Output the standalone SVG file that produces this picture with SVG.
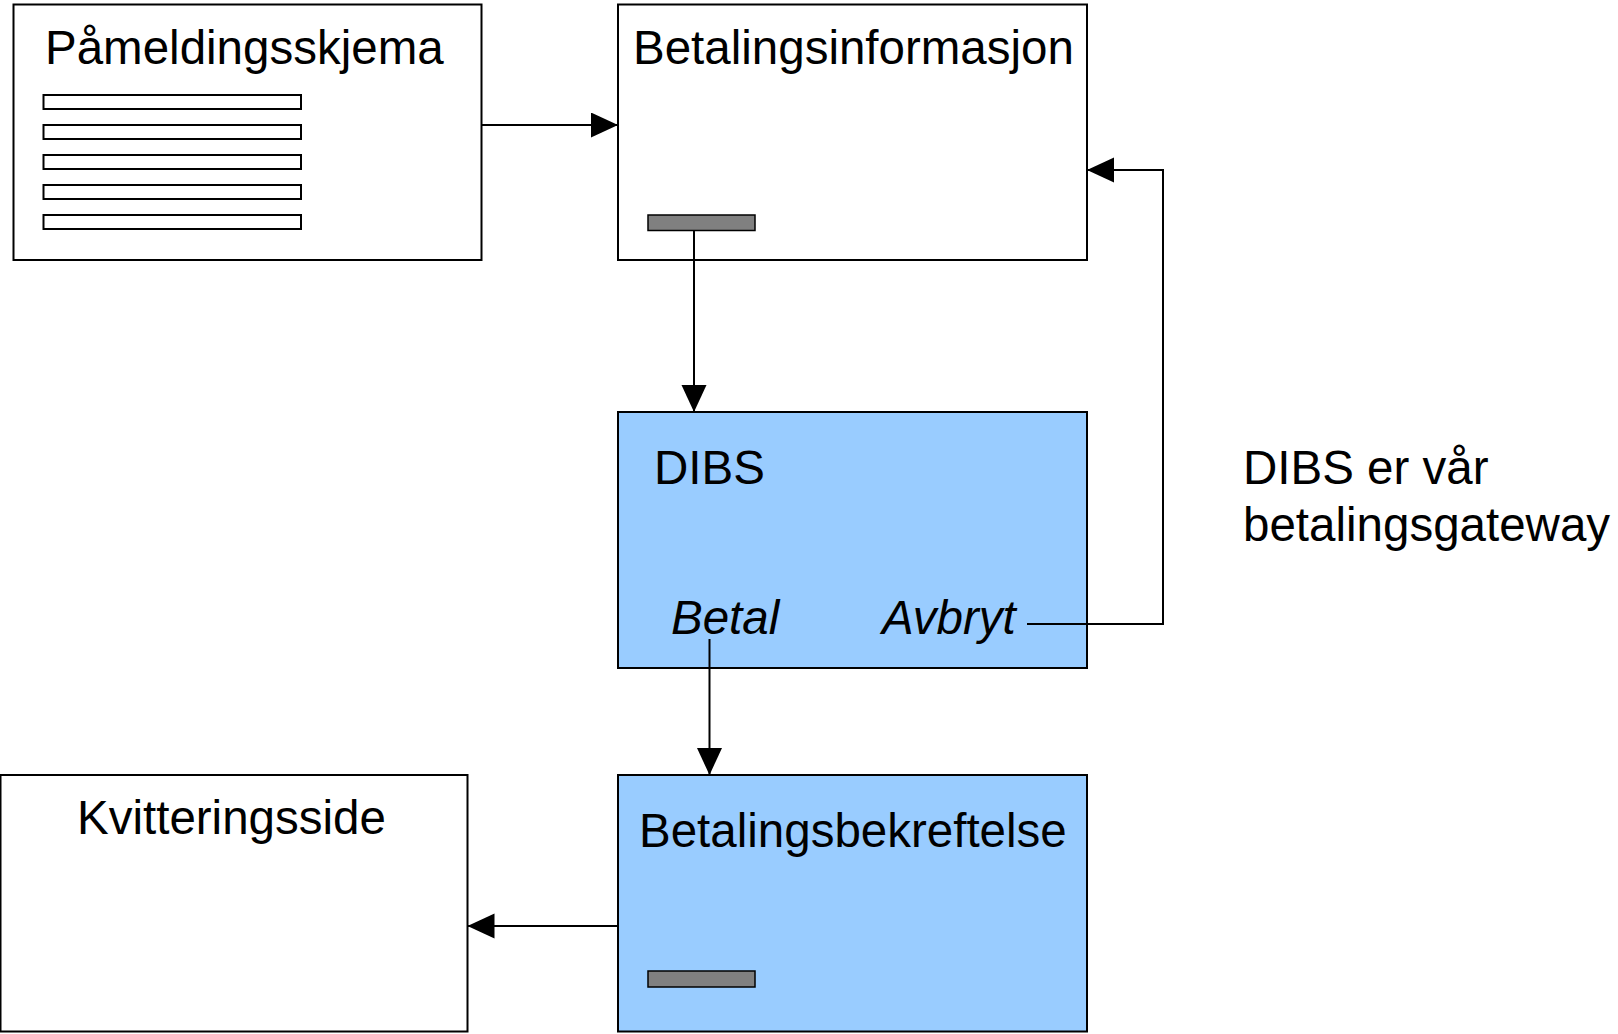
<svg xmlns="http://www.w3.org/2000/svg" width="1618" height="1034" viewBox="0 0 1618 1034">
<style>
.box{fill:#ffffff;stroke:#000;stroke-width:2}
.blue{fill:#99ccff;stroke:#000;stroke-width:2}
.field{fill:#ffffff;stroke:#000;stroke-width:2}
.btn{fill:#808080;stroke:#000;stroke-width:1.5}
.t{font-family:"Liberation Sans",Arial,sans-serif;font-size:47.5px;fill:#000}
.i{font-style:italic}
.c{fill:none;stroke:#000;stroke-width:2}
</style>
<defs>
<marker id="ah" markerUnits="userSpaceOnUse" markerWidth="28" markerHeight="26" refX="27" refY="12.5" orient="auto">
<path d="M0,0 L27,12.5 L0,25 z" fill="#000"/>
</marker>
</defs>
<rect width="1618" height="1034" fill="#fff"/>
<g id="pameldingsskjema">
<rect class="box" x="13.5" y="4.5" width="468" height="255.5"/>
<text class="t" x="45" y="63.5">Påmeldingsskjema</text>
<rect class="field" x="43.5" y="95" width="257.5" height="14"/>
<rect class="field" x="43.5" y="125" width="257.5" height="14"/>
<rect class="field" x="43.5" y="155" width="257.5" height="14"/>
<rect class="field" x="43.5" y="185" width="257.5" height="14"/>
<rect class="field" x="43.5" y="215" width="257.5" height="14"/>
</g>
<g id="betalingsinformasjon">
<rect class="box" x="618" y="4.5" width="469" height="255.5"/>
<text class="t" x="633" y="63.5">Betalingsinformasjon</text>
<rect class="btn" x="648" y="215" width="107" height="15.5"/>
</g>
<g id="dibs">
<rect class="blue" x="618" y="412" width="469" height="256"/>
<text class="t" x="654" y="483.5">DIBS</text>
<text class="t i" x="671" y="634">Betal</text>
<text class="t i" x="882" y="634">Avbryt</text>
</g>
<g id="betalingsbekreftelse">
<rect class="blue" x="618" y="775" width="469" height="256.5"/>
<text class="t" x="639" y="847">Betalingsbekreftelse</text>
<rect class="btn" x="648" y="971" width="107" height="16"/>
</g>
<g id="kvitteringsside">
<rect class="box" x="0.5" y="775" width="467" height="256.5"/>
<text class="t" x="77" y="834">Kvitteringsside</text>
</g>
<g id="note">
<text class="t" x="1243" y="484">DIBS er vår</text>
<text class="t" x="1243" y="541">betalingsgateway</text>
</g>
<g id="connectors">
<line class="c" x1="482" y1="125" x2="618" y2="125" marker-end="url(#ah)"/>
<line class="c" x1="694" y1="231" x2="694" y2="412" marker-end="url(#ah)"/>
<polyline class="c" points="1027,624 1163,624 1163,170 1087,170" marker-end="url(#ah)"/>
<line class="c" x1="709.5" y1="639" x2="709.5" y2="775" marker-end="url(#ah)"/>
<line class="c" x1="618" y1="926" x2="467.5" y2="926" marker-end="url(#ah)"/>
</g>
</svg>
